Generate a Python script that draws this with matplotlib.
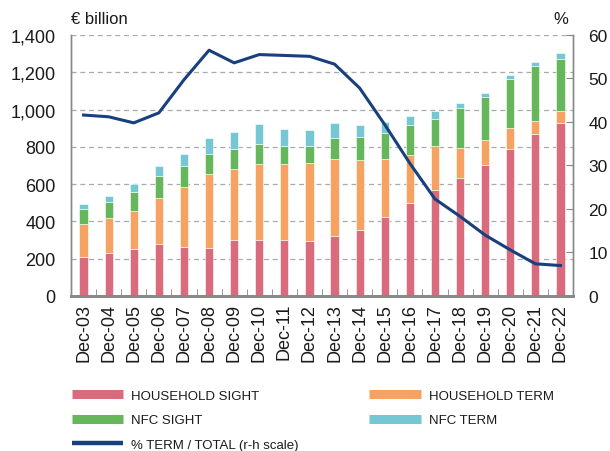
import matplotlib
matplotlib.use('Agg')
import matplotlib.pyplot as plt
from matplotlib.lines import Line2D
from matplotlib.ticker import FuncFormatter, MultipleLocator
import numpy as np

# ── Data ──────────────────────────────────────────────────────────────────────
years = ['Dec-03', 'Dec-04', 'Dec-05', 'Dec-06', 'Dec-07', 'Dec-08', 'Dec-09',
         'Dec-10', 'Dec-11', 'Dec-12', 'Dec-13', 'Dec-14', 'Dec-15', 'Dec-16',
         'Dec-17', 'Dec-18', 'Dec-19', 'Dec-20', 'Dec-21', 'Dec-22']
hh_sight = [209, 229, 254, 279, 265, 260, 299, 299, 299, 297,
            324, 356, 426, 501, 567, 632, 702, 791, 868, 929]
hh_term = [179, 192, 204, 247, 319, 395, 381, 408, 410, 415,
           412, 374, 310, 253, 240, 161, 134, 108, 72, 61]
nfc_sight = [76, 82, 101, 120, 116, 106, 106, 109, 98, 95,
             109, 122, 138, 164, 145, 213, 229, 263, 295, 279]
nfc_term = [30, 34, 42, 49, 64, 84, 93, 104, 90, 85,
            82, 65, 57, 47, 38, 31, 22, 25, 22, 34]
term_share = [41.6, 41.2, 39.8, 42.1, 49.7, 56.5, 53.6, 55.5, 55.3, 55.1,
              53.3, 47.8, 39.4, 30.5, 22.3, 18.3, 14.0, 10.6, 7.4, 7.0]

PINK = '#DA6B7D'
ORANGE = '#F5A262'
GREEN = '#66B65B'
CYAN = '#74C7D3'
NAVY = '#17407C'
AXIS_GREY = '#888888'
TEXT = '#1A1A1A'

plt.rcParams['font.family'] = ['Liberation Sans', 'DejaVu Sans']

fig = plt.figure(figsize=(6.10, 4.52), dpi=100)
ax = fig.add_axes([71 / 610, 1 - 297 / 452, 502 / 610, 261 / 452])
ax2 = ax.twinx()

x = np.arange(len(years))
w = 0.33
bottom = np.zeros(len(years))
for vals, col in [(hh_sight, PINK), (hh_term, ORANGE), (nfc_sight, GREEN), (nfc_term, CYAN)]:
    ax.bar(x, vals, w, bottom=bottom, color=col, edgecolor='white', linewidth=0.4, zorder=2)
    bottom += np.array(vals)

ax2.plot(x, term_share, color=NAVY, linewidth=2.2, zorder=3)

ax.set_xlim(-0.5, len(years) - 0.5)
ax.set_ylim(0, 1400)
ax2.set_ylim(0, 60)
ax.yaxis.set_major_locator(MultipleLocator(200))
ax.yaxis.set_major_formatter(FuncFormatter(lambda v, p: f'{int(v):,}'))
ax2.yaxis.set_major_locator(MultipleLocator(10))

ax.yaxis.grid(True, color='#AAAAAA', linestyle=(0, (4, 3)), linewidth=0.9)
ax.set_axisbelow(True)

ax.set_xticks(x)
ax.set_xticklabels(years, rotation=90, fontsize=13, color=TEXT)
ax.set_xticks(np.arange(len(years) + 1) - 0.5, minor=True)
ax.tick_params(axis='x', which='major', length=0, pad=5)
ax.tick_params(axis='x', which='minor', direction='in', length=5, color=AXIS_GREY)
ax.tick_params(axis='y', length=0, labelsize=13, pad=11, labelcolor=TEXT)
ax2.tick_params(axis='y', direction='in', length=5, color=AXIS_GREY, labelsize=12.5,
                pad=11, labelcolor=TEXT)

for a in (ax, ax2):
    a.spines['top'].set_visible(False)
    for s in ('left', 'right'):
        a.spines[s].set_color(AXIS_GREY)
        a.spines[s].set_linewidth(1.0)
    a.spines['bottom'].set_color(AXIS_GREY)
    a.spines['bottom'].set_linewidth(2.0)

fig.text(71 / 610, 1 - 19 / 452, '€ billion', fontsize=12, va='center', ha='left', color=TEXT)
fig.text(568 / 610, 1 - 19 / 452, '%', fontsize=12, va='center', ha='right', color=TEXT)

handles = [
    Line2D([0], [0], color=PINK, linewidth=6.5, solid_capstyle='butt', label='HOUSEHOLD SIGHT'),
    Line2D([0], [0], color=ORANGE, linewidth=6.5, solid_capstyle='butt', label='HOUSEHOLD TERM'),
    Line2D([0], [0], color=GREEN, linewidth=6.5, solid_capstyle='butt', label='NFC SIGHT'),
    Line2D([0], [0], color=CYAN, linewidth=6.5, solid_capstyle='butt', label='NFC TERM'),
    Line2D([0], [0], color=NAVY, linewidth=3.2, solid_capstyle='butt',
           label='% TERM / TOTAL (r-h scale)'),
]
leg_font = {'family': ['Liberation Sans Narrow', 'Liberation Sans', 'DejaVu Sans'], 'size': 9.5}
leg_kw = dict(loc='upper left', frameon=False, handlelength=3.9, handletextpad=0.6,
              labelspacing=0.92, prop=leg_font, labelcolor=TEXT)
fig.legend(handles=[handles[0], handles[2], handles[4]],
           bbox_to_anchor=(60 / 610, 1 - 379 / 452), **leg_kw)
fig.legend(handles=[handles[1], handles[3]],
           bbox_to_anchor=(357.5 / 610, 1 - 379 / 452), **leg_kw)

fig.savefig('out.png', dpi=100, facecolor='white')
